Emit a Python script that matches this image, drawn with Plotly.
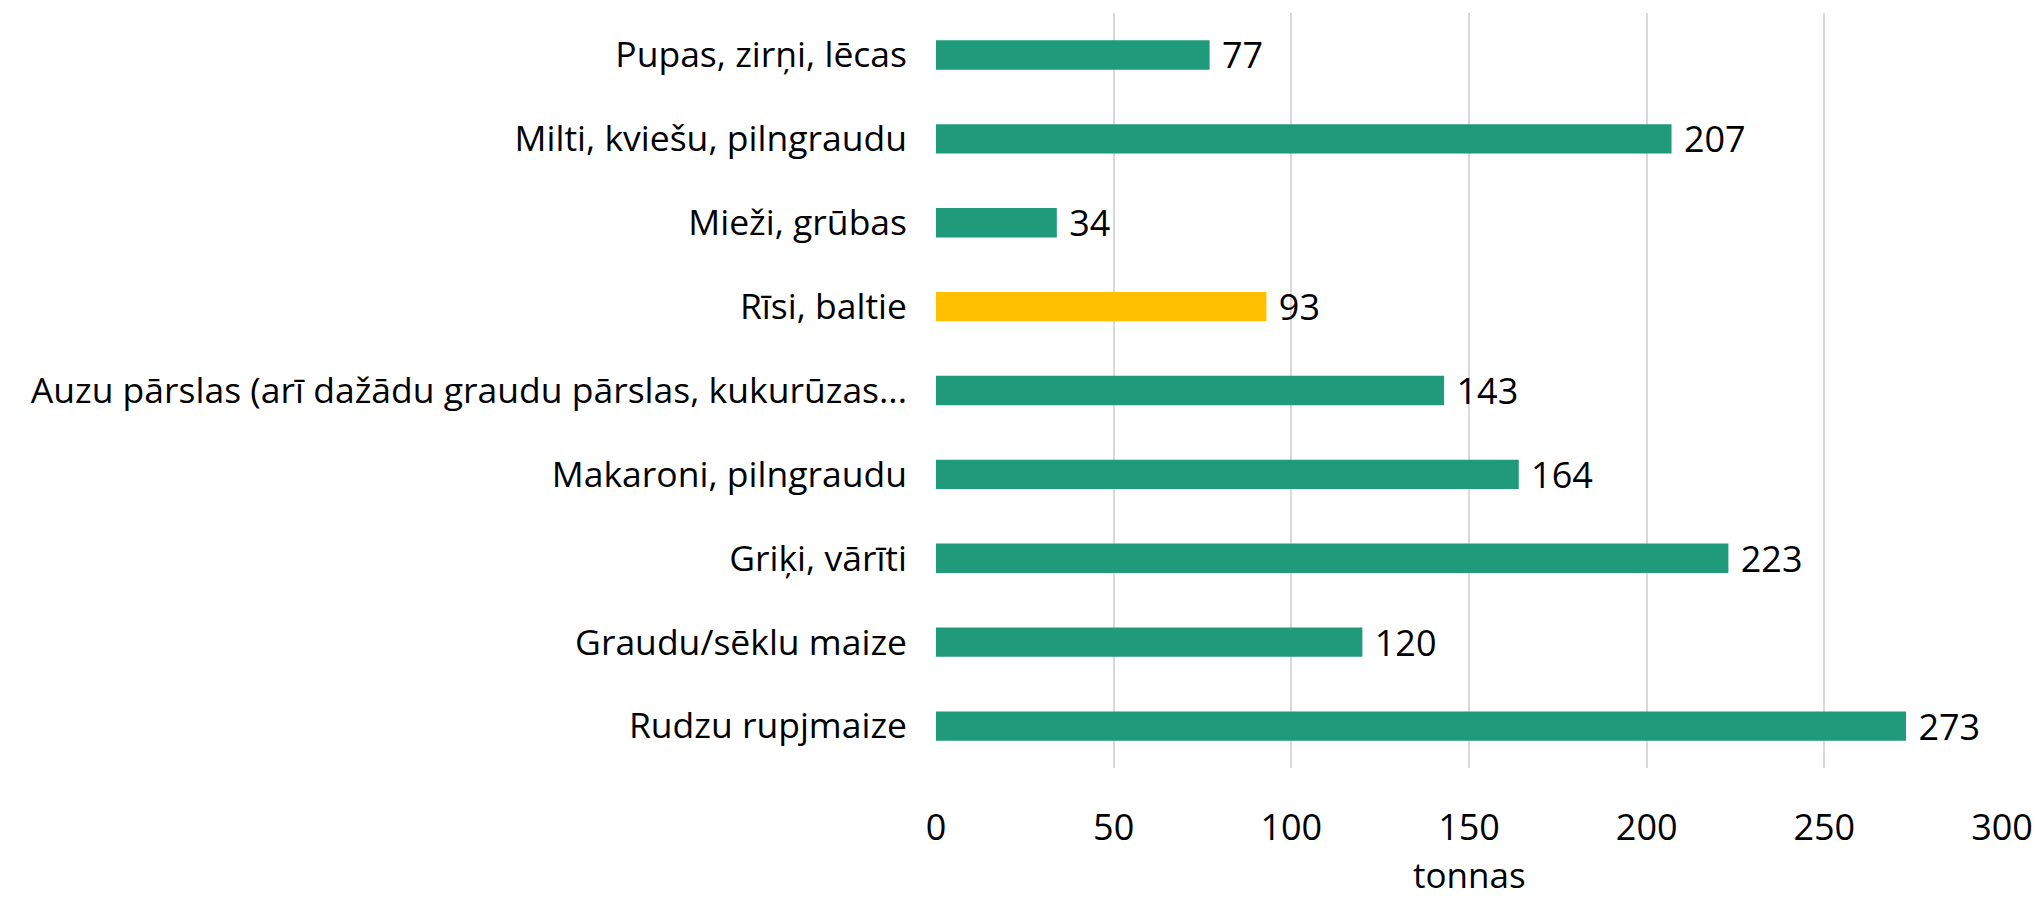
import plotly.graph_objects as go

categories = [
    "Pupas, zirņi, lēcas",
    "Milti, kviešu, pilngraudu",
    "Mieži, grūbas",
    "Rīsi, baltie",
    "Auzu pārslas (arī dažādu graudu pārslas, kukurūzas...",
    "Makaroni, pilngraudu",
    "Griķi, vārīti",
    "Graudu/sēklu maize",
    "Rudzu rupjmaize",
]
values = [77, 207, 34, 93, 143, 164, 223, 120, 273]
highlight = "Rīsi, baltie"

GREEN = "#1F9A7A"
YELLOW = "#FFC000"
colors = [YELLOW if c == highlight else GREEN for c in categories]
FONT = "Open Sans, sans-serif"

fig = go.Figure()
fig.add_trace(go.Bar(
    x=values,
    y=categories,
    orientation="h",
    marker=dict(color=colors, line=dict(width=0)),
    width=0.35,
    text=[" " + str(v) for v in values],
    textposition="outside",
    constraintext="none",
    textfont=dict(size=36, color="black", family=FONT),
    cliponaxis=False,
))

# axis title as annotation (standoff is ignored without automargin)
fig.add_annotation(
    text="tonnas", xref="paper", yref="paper", x=0.5, y=-0.141,
    xanchor="center", yanchor="middle", showarrow=False,
    font=dict(size=35, family=FONT, color="black"),
)

# page body has an 8px default margin, so the figure is a bit smaller
fig.update_layout(
    width=2032,
    height=892,
    margin=dict(l=928, r=38, t=5, b=132),
    plot_bgcolor="white",
    paper_bgcolor="white",
    showlegend=False,
    font=dict(family=FONT, size=36, color="black"),
    xaxis=dict(
        range=[0, 300],
        dtick=50,
        showgrid=True,
        gridcolor="#D9D9D9",
        gridwidth=2,
        zeroline=False,
        showline=False,
        ticks="",
        automargin=False,
        ticklabelstandoff=35,
    ),
    yaxis=dict(
        autorange="reversed",
        showgrid=False,
        zeroline=False,
        showline=False,
        ticks="",
        automargin=False,
        ticklabelstandoff=28,
        tickfont=dict(size=35.5),
    ),
)

fig.write_html("out.html")
